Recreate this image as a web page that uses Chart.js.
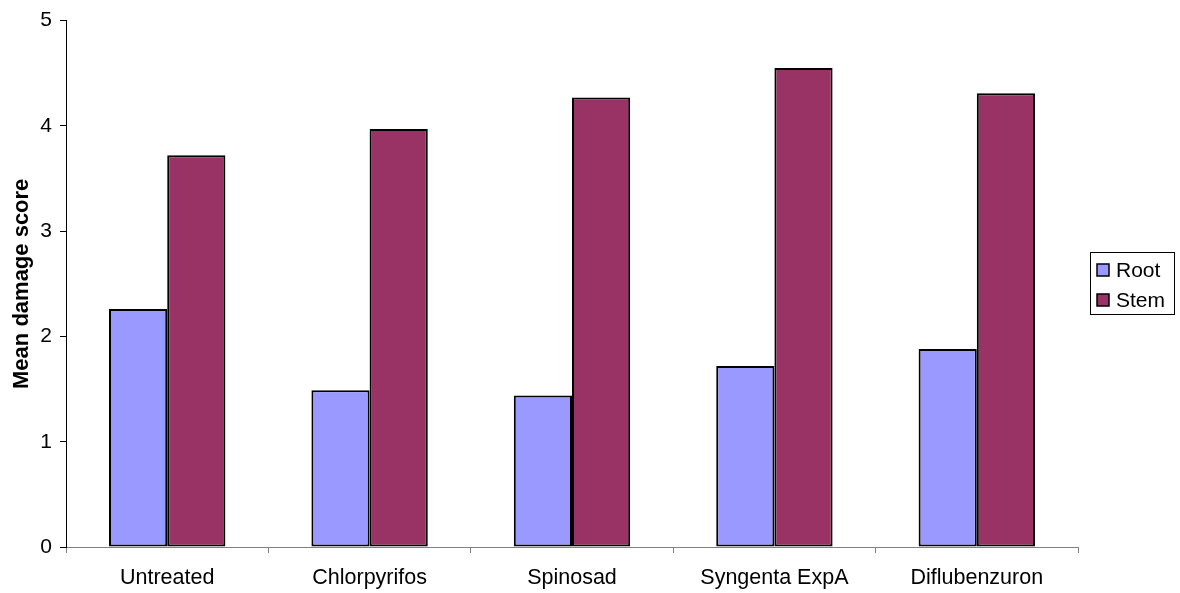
<!DOCTYPE html>
<html>
<head>
<meta charset="utf-8">
<script src="https://cdn.jsdelivr.net/npm/chart.js@4.4.1/dist/chart.umd.min.js"></script>
<style>
  html, body { margin: 0; padding: 0; background: #ffffff; }
  #wrap { width: 1180px; height: 593px; position: relative; }
</style>
</head>
<body>
<div id="wrap"><canvas id="c" width="1180" height="593"></canvas></div>
<script>
// Treatments and mean damage scores
const treatments = ['Untreated', 'Chlorpyrifos', 'Spinosad', 'Syngenta ExpA', 'Diflubenzuron'];
const rootScores = [2.26, 1.49, 1.44, 1.72, 1.88];
const stemScores = [3.72, 3.97, 4.27, 4.55, 4.31];
const seriesNames = ['Root', 'Stem'];
const seriesColors = ['#9999FF', '#993366'];

const FONT = 'Arial, "Liberation Sans", sans-serif';

// Framed legend drawn at the right of the plot
const boxLegend = {
  id: 'boxLegend',
  afterDraw(chart) {
    const ctx = chart.ctx;
    const x = 1090.5, y = 252.5, w = 84, h = 62;
    ctx.save();
    ctx.strokeStyle = '#000';
    ctx.lineWidth = 1;
    ctx.strokeRect(x, y, w, h);
    ctx.font = '21px ' + FONT;
    ctx.textBaseline = 'middle';
    seriesNames.forEach((name, i) => {
      const cy = 270 + i * 30;
      ctx.fillStyle = seriesColors[i];
      ctx.fillRect(1097, cy - 6, 12, 12);
      ctx.strokeStyle = '#000';
      ctx.lineWidth = 1.5;
      ctx.strokeRect(1097, cy - 6, 12, 12);
      ctx.fillStyle = '#000';
      ctx.fillText(name, 1116, cy + 1);
    });
    ctx.restore();
  }
};

new Chart(document.getElementById('c'), {
  type: 'bar',
  data: {
    labels: treatments,
    datasets: [
      { label: seriesNames[0], data: rootScores, backgroundColor: seriesColors[0],
        borderColor: '#000', borderWidth: 2, borderSkipped: false,
        categoryPercentage: 0.575, barPercentage: 1 },
      { label: seriesNames[1], data: stemScores, backgroundColor: seriesColors[1],
        borderColor: '#000', borderWidth: 2, borderSkipped: false,
        categoryPercentage: 0.575, barPercentage: 1 }
    ]
  },
  options: {
    responsive: false,
    animation: false,
    layout: { padding: { top: 17, right: 102, left: 0, bottom: 0 } },
    plugins: {
      legend: { display: false },
      tooltip: { enabled: false }
    },
    scales: {
      x: {
        grid: { display: true, drawOnChartArea: false, drawTicks: true, tickLength: 6,
                color: '#808080', offset: true },
        border: { display: true, color: '#808080', width: 1 },
        ticks: { color: '#000', font: { family: FONT, size: 21.5 }, padding: 12, maxRotation: 0 },
        afterFit(s) { s.height = 46; }
      },
      y: {
        min: 0, max: 5,
        grid: { display: true, drawOnChartArea: false, drawTicks: true, tickLength: 6, color: '#000' },
        border: { display: true, color: '#000', width: 1 },
        ticks: { stepSize: 1, color: '#000', font: { family: FONT, size: 21 }, padding: 8 },
        title: { display: true, text: 'Mean damage score', color: '#000',
                 font: { family: FONT, size: 22, weight: 'bold' }, padding: { top: 9, bottom: 0 } },
        afterFit(s) { s.width = 66; }
      }
    }
  },
  plugins: [boxLegend]
});
</script>
</body>
</html>
